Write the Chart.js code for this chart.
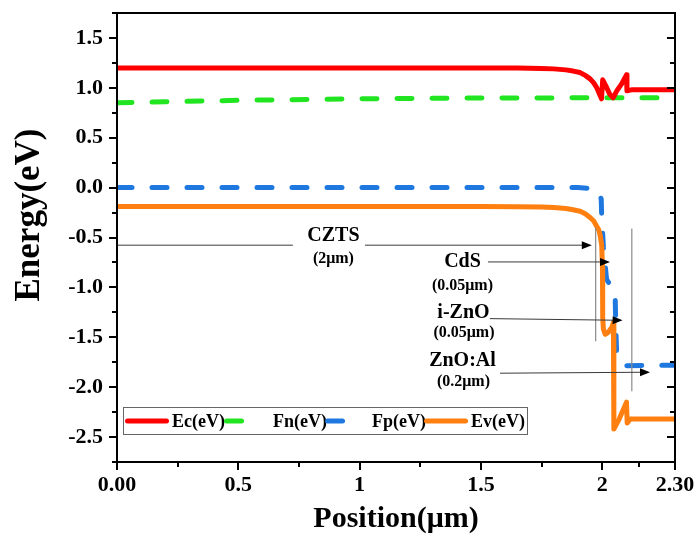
<!DOCTYPE html>
<html><head><meta charset="utf-8">
<script src="https://cdn.jsdelivr.net/npm/chart.js@4.4.1/dist/chart.umd.min.js"></script>
<style>html,body{margin:0;padding:0;background:#fff}canvas{display:block}</style>
</head><body>
<canvas id="c" width="700" height="538"></canvas>
<script>
// ---- data (position in µm, energy in eV) ----
const seriesNames = ['Ec(eV)', 'Fn(eV)', 'Fp(eV)', 'Ev(eV)'];

const ecPos = [0, 1.0, 1.5, 1.65, 1.75, 1.8, 1.85, 1.88, 1.909, 1.93, 1.95, 1.965, 1.977, 1.99, 1.997, 2.002, 2.015, 2.03, 2.045, 2.06, 2.08, 2.1, 2.102, 2.12, 2.3];
const ecVal = [1.2, 1.2, 1.2, 1.198, 1.194, 1.19, 1.18, 1.168, 1.153, 1.125, 1.09, 1.05, 1.003, 0.93, 0.89, 1.08, 1.02, 0.94, 0.9, 0.97, 1.04, 1.13, 0.97, 0.98, 0.98];

const fnPos = [0, 0.2, 0.5, 1.0, 1.5, 2.0, 2.3];
const fnVal = [0.85, 0.86, 0.875, 0.89, 0.898, 0.9, 0.9];

const fpPos = [0, 1.9, 1.97, 1.99, 1.996, 1.998, 2.005, 2.018, 2.053, 2.056, 2.06, 2.1, 2.3];
const fpVal = [0, 0, -0.01, -0.05, -0.12, -0.3, -0.6, -0.92, -1.05, -1.4, -1.7, -1.785, -1.78];

const evPos = [0, 1.0, 1.5, 1.65, 1.75, 1.8, 1.85, 1.88, 1.909, 1.93, 1.95, 1.965, 1.977, 1.985, 1.991, 1.998, 2.001, 2.002, 2.005, 2.012, 2.025, 2.04, 2.046, 2.048, 2.07, 2.1, 2.103, 2.115, 2.3];
const evVal = [-0.19, -0.19, -0.19, -0.191, -0.195, -0.2, -0.21, -0.222, -0.237, -0.262, -0.3, -0.335, -0.387, -0.42, -0.47, -0.58, -0.8, -1.3, -1.42, -1.47, -1.45, -1.4, -1.35, -2.42, -2.32, -2.15, -2.36, -2.32, -2.32];

const xTickValues = [0, 0.5, 1, 1.5, 2, 2.3];
const xTickLabels = ['0.00', '0.5', '1', '1.5', '2', '2.30'];
const xMinorTicks = [0.25, 0.75, 1.25, 1.75, 2.15];
const yTickValues = [-2.5, -2, -1.5, -1, -0.5, 0, 0.5, 1, 1.5];
const yTickLabels = ['-2.5', '-2.0', '-1.5', '-1.0', '-0.5', '0.0', '0.5', '1.0', '1.5'];
const yMinorTicks = [-2.75, -2.25, -1.75, -1.25, -0.75, -0.25, 0.25, 0.75, 1.25, 1.75];

// ---- annotations (data units) ----
const annoLines = [
  {x1: 0, y1: -0.577, x2: 0.725, y2: -0.577, arrow: false},
  {x1: 1.022, y1: -0.577, x2: 1.957, y2: -0.577, arrow: true},
  {x1: 1.529, y1: -0.745, x2: 2.032, y2: -0.745, arrow: true},
  {x1: 1.537, y1: -1.313, x2: 2.084, y2: -1.33, arrow: true},
  {x1: 1.579, y1: -1.86, x2: 2.197, y2: -1.85, arrow: true}
];
const annoVLines = [{x: 1.973, y1: -0.40, y2: -1.54}, {x: 2.122, y1: -0.41, y2: -2.04}];
const annoTexts = [
  {t: 'CZTS', x: 0.892, y: -0.487, size: 20},
  {t: '(2μm)', x: 0.892, y: -0.71, size: 16},
  {t: 'CdS', x: 1.424, y: -0.74, size: 20},
  {t: '(0.05μm)', x: 1.424, y: -0.98, size: 16},
  {t: 'i-ZnO', x: 1.428, y: -1.25, size: 20},
  {t: '(0.05μm)', x: 1.43, y: -1.46, size: 16},
  {t: 'ZnO:Al', x: 1.424, y: -1.735, size: 20},
  {t: '(0.2μm)', x: 1.428, y: -1.945, size: 16}
];

const FONT = "'Liberation Serif','Times New Roman',serif";
const colors = ['#FF0000', '#22E522', '#1F78E0', '#FF8010'];
const dashes = [[], [15, 20], [15, 20], []];
const legendItems = [
  {l0: 8, l1: 52, tx: 55},
  {l0: 107, l1: 127, tx: 156},
  {l0: 208, l1: 228, tx: 255},
  {l0: 307, l1: 351, tx: 354}
];

function pts(xs, ys) { return xs.map((x, i) => ({x: x, y: ys[i]})); }

const framePlugin = {
  id: 'frame',
  beforeDraw(chart) {
    const c = chart.ctx;
    c.save(); c.fillStyle = '#fff'; c.fillRect(0, 0, chart.width, chart.height); c.restore();
  },
  afterDraw(chart) {
    const c = chart.ctx, a = chart.chartArea;
    const xs = chart.scales.x, ys = chart.scales.y;
    c.save();
    // annotation vertical lines
    c.strokeStyle = '#8a8a8a'; c.lineWidth = 1.2;
    annoVLines.forEach(v => {
      const px = xs.getPixelForValue(v.x);
      c.beginPath(); c.moveTo(px, ys.getPixelForValue(v.y1)); c.lineTo(px, ys.getPixelForValue(v.y2)); c.stroke();
    });
    // annotation lines + arrows
    annoLines.forEach(l => {
      const x1 = xs.getPixelForValue(l.x1), y1 = ys.getPixelForValue(l.y1);
      const x2 = xs.getPixelForValue(l.x2), y2 = ys.getPixelForValue(l.y2);
      c.strokeStyle = '#3a3a3a'; c.lineWidth = 1;
      const ang = Math.atan2(y2 - y1, x2 - x1);
      const L = l.arrow ? 9 : 0;
      c.beginPath(); c.moveTo(x1, y1); c.lineTo(x2 - L * Math.cos(ang), y2 - L * Math.sin(ang)); c.stroke();
      if (l.arrow) {
        c.fillStyle = '#000';
        c.beginPath();
        c.moveTo(x2, y2);
        c.lineTo(x2 - 10 * Math.cos(ang) + 4 * Math.sin(ang), y2 - 10 * Math.sin(ang) - 4 * Math.cos(ang));
        c.lineTo(x2 - 10 * Math.cos(ang) - 4 * Math.sin(ang), y2 - 10 * Math.sin(ang) + 4 * Math.cos(ang));
        c.closePath(); c.fill();
      }
    });
    c.fillStyle = '#000'; c.textAlign = 'center'; c.textBaseline = 'middle';
    annoTexts.forEach(t => {
      c.font = 'bold ' + t.size + 'px ' + FONT;
      c.fillText(t.t, xs.getPixelForValue(t.x), ys.getPixelForValue(t.y));
    });
    // frame
    c.strokeStyle = '#000'; c.lineWidth = 2;
    c.strokeRect(a.left, a.top, a.right - a.left, a.bottom - a.top);
    // ticks
    c.lineWidth = 2;
    const tick = (x1, y1, x2, y2) => { c.beginPath(); c.moveTo(x1, y1); c.lineTo(x2, y2); c.stroke(); };
    yTickValues.forEach(v => { const p = Math.round(ys.getPixelForValue(v)); tick(a.left - 8, p, a.left, p); tick(a.right - 8, p, a.right, p); });
    yMinorTicks.forEach(v => { const p = Math.round(ys.getPixelForValue(v)); tick(a.left - 5, p, a.left, p); tick(a.right - 5, p, a.right, p); });
    xTickValues.forEach(v => { const p = Math.round(xs.getPixelForValue(v)); tick(p, a.bottom, p, a.bottom + 8); });
    xMinorTicks.forEach(v => { const p = Math.round(xs.getPixelForValue(v)); tick(p, a.bottom, p, a.bottom + 5); });
    // legend
    const lx = a.left, ly = a.bottom - 41;
    c.strokeStyle = '#666'; c.lineWidth = 1;
    c.strokeRect(lx + 6.5, a.bottom - 54.5, 404, 27);
    c.font = 'bold 18px ' + FONT; c.textAlign = 'left'; c.textBaseline = 'middle'; c.fillStyle = '#000';
    chart.data.datasets.forEach((ds, i) => {
      const it = legendItems[i];
      c.strokeStyle = ds.borderColor; c.lineWidth = 5; c.lineCap = 'round';
      c.beginPath(); c.moveTo(lx + it.l0 + 2.5, ly); c.lineTo(lx + it.l1 - 2.5, ly); c.stroke();
      c.fillText(ds.label, lx + it.tx, ly + 1);
    });
    // y title
    c.translate(30, 215); c.rotate(-Math.PI / 2);
    c.font = 'bold 35px ' + FONT; c.textAlign = 'center'; c.textBaseline = 'middle';
    c.fillText('Energy(eV)', 0, 0);
    c.restore();
  }
};

const allPos = [ecPos, fnPos, fpPos, evPos];
const allVal = [ecVal, fnVal, fpVal, evVal];
const orders = [0, 1, 1, 0];

new Chart(document.getElementById('c'), {
  type: 'line',
  data: {
    datasets: seriesNames.map((n, i) => ({
      label: n,
      data: pts(allPos[i], allVal[i]),
      borderColor: colors[i],
      borderWidth: 5,
      borderDash: dashes[i],
      borderCapStyle: 'round',
      borderJoinStyle: 'round',
      pointRadius: 0,
      tension: 0,
      fill: false,
      order: orders[i]
    }))
  },
  options: {
    responsive: false,
    animation: false,
    devicePixelRatio: 1,
    layout: {padding: {top: 13, right: 25, left: 0, bottom: 0}},
    plugins: {legend: {display: false}, tooltip: {enabled: false}},
    scales: {
      x: {
        type: 'linear', min: 0, max: 2.3,
        afterBuildTicks: s => { s.ticks = xTickValues.map(v => ({value: v})); },
        afterFit: s => { s.height = 76; s.paddingLeft = 0; s.paddingRight = 0; s.paddingTop = 0; s.paddingBottom = 0; },
        grid: {display: false, drawTicks: false},
        border: {display: false},
        ticks: {callback: (v, i) => xTickLabels[i], font: {family: FONT, size: 22, weight: 'bold'}, color: '#000', padding: 10, maxRotation: 0, autoSkip: false},
        title: {display: true, text: 'Position(μm)', font: {family: FONT, size: 30, weight: 'bold'}, color: '#000', padding: {top: 0, bottom: 1}}
      },
      y: {
        type: 'linear', min: -2.75, max: 1.75,
        afterBuildTicks: s => { s.ticks = yTickValues.map(v => ({value: v})); },
        afterFit: s => { s.width = 117; s.paddingLeft = 0; s.paddingRight = 0; s.paddingTop = 0; s.paddingBottom = 0; },
        grid: {display: false, drawTicks: false},
        border: {display: false},
        ticks: {callback: (v, i) => yTickLabels[i], font: {family: FONT, size: 22, weight: 'bold'}, color: '#000', padding: 14, autoSkip: false}
      }
    }
  },
  plugins: [framePlugin]
});
</script>
</body></html>
